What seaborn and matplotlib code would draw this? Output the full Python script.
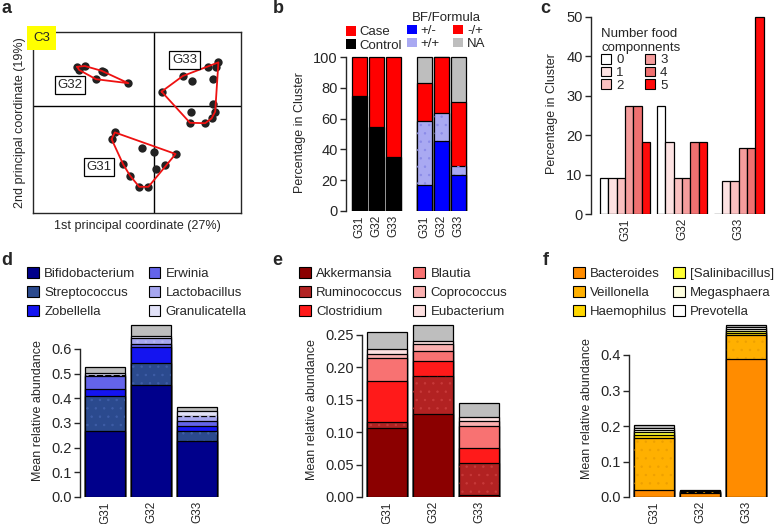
import numpy as np
import pandas as pd
import matplotlib
matplotlib.use('Agg')
import matplotlib.pyplot as plt
import seaborn as sns
from matplotlib.patches import Patch

# ---- data ----
groups = ['G31', 'G32', 'G33']

# a: PCoA coordinates per cluster
g31_pc1 = [-0.098, -0.106, -0.031, 0.000, 0.054, -0.077, 0.028, 0.004, -0.060, -0.037, -0.014]
g31_pc2 = [-0.066, -0.083, -0.104, -0.114, -0.120, -0.146, -0.148, -0.158, -0.174, -0.202, -0.202]
g32_pc1 = [-0.192, -0.173, -0.187, -0.131, -0.125, -0.145, -0.064]
g32_pc2 = [0.098, 0.100, 0.090, 0.088, 0.084, 0.067, 0.057]
g33_pc1 = [0.161, 0.155, 0.136, 0.148, 0.072, 0.094, 0.019, 0.147, 0.153, 0.144, 0.128, 0.090, 0.093]
g33_pc2 = [0.109, 0.098, 0.098, 0.068, 0.075, 0.063, 0.036, 0.004, -0.014, -0.031, -0.043, -0.042, -0.014]

# b: case/control and feeding
b_control = [75.0, 54.5, 35.3]
b_case = [25.0, 45.5, 64.7]
b_bf_only = [16.7, 45.5, 23.5]      # +/-
b_bf_formula = [41.7, 18.2, 5.9]    # +/+
b_formula_only = [25.0, 36.3, 41.2] # -/+
b_na = [16.6, 0.0, 29.4]

# c: number of food components
c_counts = ['0', '1', '2', '3', '4', '5']
c_g31 = [9.1, 9.1, 9.1, 27.3, 27.3, 18.2]
c_g32 = [27.3, 18.2, 9.1, 9.1, 18.2, 18.2]
c_g33 = [0.0, 8.3, 8.3, 16.7, 16.7, 50.0]

# d
d_names = ['Bifidobacterium', 'Streptococcus', 'Zobellella', 'Erwinia', 'Lactobacillus', 'Granulicatella']
d_bifido = [0.267, 0.454, 0.227]
d_strep = [0.142, 0.089, 0.041]
d_zobel = [0.029, 0.067, 0.018]
d_erwinia = [0.052, 0.012, 0.021]
d_lacto = [0.006, 0.021, 0.021]
d_granuli = [0.006, 0.008, 0.020]
d_other = [0.026, 0.047, 0.018]

# e
e_names = ['Akkermansia', 'Ruminococcus', 'Clostridium', 'Blautia', 'Coprococcus', 'Eubacterium']
e_akker = [0.106, 0.128, 0.003]
e_rumino = [0.009, 0.058, 0.049]
e_clostr = [0.064, 0.024, 0.024]
e_blautia = [0.036, 0.016, 0.033]
e_copro = [0.005, 0.010, 0.009]
e_eubact = [0.009, 0.005, 0.005]
e_other = [0.025, 0.025, 0.022]

# f
f_names = ['Bacteroides', 'Veillonella', 'Haemophilus', '[Salinibacillus]', 'Megasphaera', 'Prevotella']
f_bactero = [0.019, 0.012, 0.390]
f_veillo = [0.146, 0.002, 0.066]
f_haemo = [0.009, 0.001, 0.006]
f_salini = [0.009, 0.001, 0.006]
f_megas = [0.006, 0.001, 0.004]
f_prevo = [0.006, 0.001, 0.007]
f_other = [0.007, 0.001, 0.006]

# ---- style ----
sns.set_style('ticks')
plt.rcParams['font.family'] = ['Liberation Sans', 'DejaVu Sans']
plt.rcParams['font.size'] = 9
plt.rcParams['axes.labelsize'] = 9
plt.rcParams['ytick.labelsize'] = 10.5
plt.rcParams['xtick.labelsize'] = 8.5
plt.rcParams['axes.linewidth'] = 1.0
plt.rcParams['hatch.linewidth'] = 0.5

W, H = 777, 524
fig = plt.figure(figsize=(W / 100, H / 100), dpi=100)


def px_axes(left, right, top, bottom):
    return fig.add_axes([left / W, 1 - bottom / H, (right - left) / W, (bottom - top) / H])


def hull(xs, ys):
    pts = sorted(set(zip(xs, ys)))
    def cross(o, a, b):
        return (a[0] - o[0]) * (b[1] - o[1]) - (a[1] - o[1]) * (b[0] - o[0])
    lower, upper = [], []
    for p in pts:
        while len(lower) >= 2 and cross(lower[-2], lower[-1], p) <= 0:
            lower.pop()
        lower.append(p)
    for p in reversed(pts):
        while len(upper) >= 2 and cross(upper[-2], upper[-1], p) <= 0:
            upper.pop()
        upper.append(p)
    h = lower[:-1] + upper[:-1] + [lower[0]]
    return [p[0] for p in h], [p[1] for p in h]


def stack(ax, xpos, layers, colors, width, dots=None):
    cum = np.cumsum(np.array(layers, dtype=float), axis=0)
    for i in range(len(layers) - 1, -1, -1):
        sns.barplot(x=xpos, y=cum[i], color=colors[i], saturation=1, width=width,
                    native_scale=True, edgecolor='black', linewidth=0.9, ax=ax, errorbar=None)
        if dots and dots[i]:
            ax.bar(xpos, cum[i], width=width, color='none', edgecolor=dots[i], linewidth=0, hatch='..')


def style_bar_axis(ax, top):
    sns.despine(ax=ax, bottom=True)
    ax.spines['left'].set_bounds(0, top)
    ax.tick_params(axis='x', length=0, labelrotation=90, pad=3)
    ax.tick_params(axis='y', length=4, width=1, pad=2)


leg_kw = dict(bbox_transform=fig.transFigure, frameon=False, borderpad=0, borderaxespad=0)

# ---- a ----
axa = px_axes(33, 241, 32, 213)
for xs, ys in [(g31_pc1, g31_pc2), (g32_pc1, g32_pc2), (g33_pc1, g33_pc2)]:
    sns.scatterplot(x=xs, y=ys, color='#222222', s=36, linewidth=0, ax=axa, zorder=3)
    hx, hy = hull(xs, ys)
    axa.plot(hx, hy, color='#ee1111', lw=1.3, zorder=4)
axa.axhline(0, color='black', lw=1, zorder=1)
axa.axvline(0, color='black', lw=1, zorder=1)
axa.set_xlim(-0.3025, 0.2175)
axa.set_ylim(-0.2675, 0.185)
axa.set_xticks([])
axa.set_yticks([])
axa.set_xlabel('1st principal coordinate (27%)', labelpad=5)
axa.set_ylabel('2nd principal coordinate (19%)', labelpad=5)
box = dict(boxstyle='square,pad=0.2', fc='white', ec='black', lw=0.9)
axa.text(-0.21, 0.0525, 'G32', ha='center', va='center', bbox=box, zorder=5, fontsize=9.5)
axa.text(0.076, 0.115, 'G33', ha='center', va='center', bbox=box, zorder=5, fontsize=9.5)
axa.text(-0.1375, -0.1525, 'G31', ha='center', va='center', bbox=box, zorder=5, fontsize=9.5)
axa.text(0.0, 1.0, 'C3', transform=axa.transAxes, ha='left', va='top', fontsize=9.5,
         bbox=dict(boxstyle='square,pad=0.45', fc='#ffff00', ec='none'), zorder=5)

# ---- b ----
axb = px_axes(346, 469, 54.7, 211)
pos1 = [0.0, 1.0, 2.0]
pos2 = [3.8, 4.8, 5.8]
stack(axb, pos1, [b_control, b_case], ['black', '#ff0000'], 0.88)
stack(axb, pos2, [b_bf_only, b_bf_formula, b_formula_only, b_na],
      ['#0000ff', '#a9a9f2', '#ff0000', '#bebebe'], 0.88, dots=[None, '#8a8ae8', None, None])
axb.set_xlim(-0.794, 6.44)
axb.set_ylim(0, 101.5)
axb.set_yticks([0, 20, 40, 60, 80, 100])
axb.set_xticks(pos1 + pos2)
axb.set_xticklabels(groups + groups)
axb.set_ylabel('Percentage in Cluster', labelpad=5)
style_bar_axis(axb, 100)
leg1 = axb.legend(handles=[Patch(fc='#ff0000', ec='none'), Patch(fc='black', ec='none')],
                  labels=['Case', 'Control'], loc='upper left', bbox_to_anchor=(346 / W, 1 - 26 / H),
                  handlelength=0.75, handleheight=0.75, handletextpad=0.3, labelspacing=0.05,
                  fontsize=9.5, **leg_kw)
axb.add_artist(leg1)
axb.legend(handles=[Patch(fc='#0000ff', ec='none'), Patch(fc='#a9a9f2', ec='none'),
                    Patch(fc='#ff0000', ec='none'), Patch(fc='#bebebe', ec='none')],
           labels=['+/-', '+/+', '-/+', 'NA'], ncol=2, title='BF/Formula',
           loc='upper left', bbox_to_anchor=(407 / W, 1 - 12 / H),
           handlelength=0.75, handleheight=0.75, handletextpad=0.3,
           labelspacing=0.05, columnspacing=1.0, fontsize=9.5, title_fontsize=9.5, **leg_kw)

# ---- c ----
axc = px_axes(591, 770, 13, 214)
c_df = pd.DataFrame({'group': np.repeat(groups, len(c_counts)),
                     'n': c_counts * 3,
                     'pct': c_g31 + c_g32 + c_g33})
c_colors = ['#ffffff', '#fde2e2', '#fac0c0', '#f59c9c', '#f07070', '#ff0a0a']
sns.barplot(data=c_df, x='group', y='pct', hue='n', palette=c_colors, saturation=1,
            edgecolor='black', linewidth=0.9, width=0.88, legend=False, ax=axc, errorbar=None)
axc.set_xlim(-0.6, 2.55)
axc.set_ylim(0, 51)
axc.set_yticks([0, 10, 20, 30, 40, 50])
axc.set_xlabel('')
axc.set_ylabel('Percentage in Cluster', labelpad=6)
style_bar_axis(axc, 50)
axc.legend(handles=[Patch(fc=c, ec='black', lw=0.8) for c in c_colors], labels=c_counts, ncol=2,
           title='Number food\ncomponnents', loc='upper left', alignment='left',
           bbox_to_anchor=(601 / W, 1 - 28 / H),
           handlelength=0.75, handleheight=0.75, handletextpad=0.4, labelspacing=0.02,
           columnspacing=1.6, fontsize=9.5, title_fontsize=9.5, **leg_kw)


# ---- d, e, f ----
def abundance_panel(left, top_px, ymax, spine_top, ticks, layers, colors, names, dots, leg_x, colsp):
    ax = px_axes(left, left + 142, top_px, 497)
    stack(ax, [0.0, 1.0, 2.0], layers, colors, 0.87, dots=dots)
    ax.set_xlim(-0.543, 2.544)
    ax.set_ylim(0, ymax)
    ax.set_yticks(ticks)
    ax.set_xticks([0, 1, 2])
    ax.set_xticklabels(groups)
    ax.set_ylabel('Mean relative abundance', labelpad=5)
    style_bar_axis(ax, spine_top)
    ax.legend(handles=[Patch(fc=c, ec='black', lw=0.8) for c in colors[:6]], labels=names, ncol=2,
              loc='upper left', bbox_to_anchor=(leg_x / W, 1 - 267 / H),
              handlelength=0.9, handleheight=0.9, handletextpad=0.4,
              labelspacing=0.45, columnspacing=colsp, fontsize=9.5, **leg_kw)
    return ax


axd = abundance_panel(80, 324.3, 0.70, 0.6, [0.0, 0.1, 0.2, 0.3, 0.4, 0.5, 0.6],
                      [d_bifido, d_strep, d_zobel, d_erwinia, d_lacto, d_granuli, d_other],
                      ['#00008b', '#2b4a8e', '#1414f0', '#6464ea', '#a6a6f0', '#e2e2f8', '#bebebe'],
                      d_names, [None, '#3f5ea8', None, None, '#b8b8f4', None, None], 27, 1.0)
axd.yaxis.set_major_formatter(matplotlib.ticker.FormatStrFormatter('%.1f'))

axe = abundance_panel(362, 322, 0.27, 0.25, [0.0, 0.05, 0.1, 0.15, 0.2, 0.25],
                      [e_akker, e_rumino, e_clostr, e_blautia, e_copro, e_eubact, e_other],
                      ['#8b0000', '#b22222', '#ff1a1a', '#f87272', '#fbb0b0', '#fde0e0', '#bebebe'],
                      e_names, [None, '#c83a3a', None, None, None, None, None], 299, 0.8)
axe.yaxis.set_major_formatter(matplotlib.ticker.FormatStrFormatter('%.2f'))

axf = abundance_panel(629, 319.5, 0.50, 0.4, [0.0, 0.1, 0.2, 0.3, 0.4],
                      [f_bactero, f_veillo, f_haemo, f_salini, f_megas, f_prevo, f_other],
                      ['#ff8c00', '#ffb000', '#ffd700', '#ffff33', '#ffffe0', '#ffffff', '#bebebe'],
                      f_names, [None, '#eea000', None, None, None, None, None], 573, 0.45)
axf.yaxis.set_major_formatter(matplotlib.ticker.FormatStrFormatter('%.1f'))

# panel letters
for lbl, x, y in [('a', 1, 13), ('b', 273, 13), ('c', 540, 13), ('d', 1, 265), ('e', 272, 265), ('f', 543, 265)]:
    fig.text(x / W, 1 - y / H, lbl, fontsize=13, fontweight='bold', ha='left', va='baseline')

fig.savefig('out.png', dpi=100)
